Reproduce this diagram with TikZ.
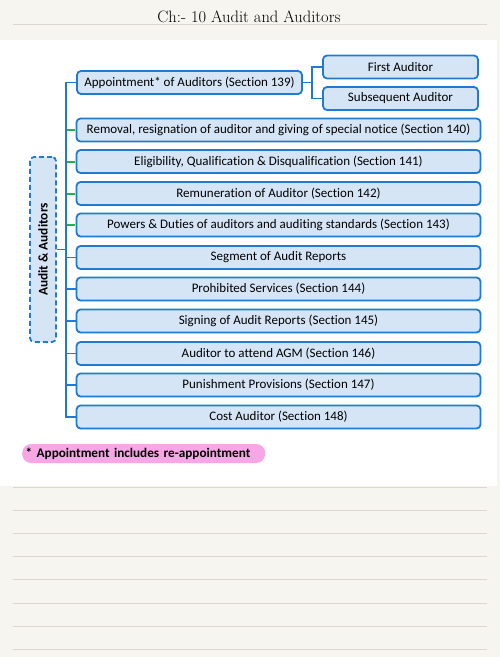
\documentclass[tikz,border=0pt]{standalone}
\usepackage{fontspec}
\setsansfont{Carlito}[Ligatures=NoCommon]
\usetikzlibrary{positioning}
\definecolor{cream}{HTML}{F7F5F0}
\definecolor{ruleline}{HTML}{DCD7CF}
\definecolor{boxfill}{HTML}{D5E5F6}
\definecolor{boxline}{HTML}{1E7AD2}
\definecolor{branchgreen}{HTML}{22B24A}
\definecolor{pillpink}{HTML}{F7A6E6}
\begin{document}
\begin{tikzpicture}[x=1pt,y=-1pt,
  topic/.style={draw=boxline, fill=boxfill, line width=1.8pt, rounded corners=4pt,
    minimum width=404pt, minimum height=23pt, inner sep=0pt,
    font=\sffamily\fontsize{13}{15}\selectfont, text=black},
  subtopic/.style={topic, minimum width=155pt},
  link/.style={draw=boxline, line width=1.8pt},
  glink/.style={draw=branchgreen, line width=2pt},
  ruled/.style={draw=ruleline, line width=0.8pt}]
\useasboundingbox (0,0) rectangle (500,657);
\fill[cream] (0,0) rectangle (500,657);
\fill[white] (0,40) rectangle (497,486);
% title
\draw[ruled] (13,24) -- (487,24);
\node (title) at (249,17) {\fontsize{16.5}{19}\selectfont Ch:- \oldstylenums{10} Audit and Auditors};
% lined area
\foreach \yy in {487,510,533,556,579,603,626,649}
  \draw[ruled] (13,\yy) -- (487,\yy);
% root
\node[draw=boxline, fill=boxfill, dash pattern=on 5pt off 3pt, line width=1.8pt, rounded corners=4pt,
  minimum width=26pt, minimum height=185pt, inner sep=0pt] (root) at (43,249.5) {};
\node[rotate=90, font=\sffamily\bfseries\fontsize{13.3}{15}\selectfont] (roottext) at (root.center) {Audit \& Auditors};
% main topics
\node[topic, minimum width=225pt] (t0) at (189.5,82.5) {Appointment* of Auditors (Section 139)};
\node[topic] (t1) at (278.5,130) {Removal, resignation of auditor and giving of special notice (Section 140)};
\node[topic] (t2) at (278.5,161.5) {Eligibility, Qualification \& Disqualification (Section 141)};
\node[topic] (t3) at (278.5,193.5) {Remuneration of Auditor (Section 142)};
\node[topic] (t4) at (278.5,225) {Powers \& Duties of auditors and auditing standards (Section 143)};
\node[topic] (t5) at (278.5,257.5) {Segment of Audit Reports};
\node[topic] (t6) at (278.5,289) {Prohibited Services (Section 144)};
\node[topic] (t7) at (278.5,321) {Signing of Audit Reports (Section 145)};
\node[topic] (t8) at (278.5,353.5) {Auditor to attend AGM (Section 146)};
\node[topic] (t9) at (278.5,385) {Punishment Provisions (Section 147)};
\node[topic] (t10) at (278.5,417) {Cost Auditor (Section 148)};
% sub topics
\node[subtopic] (s1) at (400.5,67) {First Auditor};
\node[subtopic] (s2) at (400.5,98.5) {Subsequent Auditor};
% spine
\coordinate (spinetop) at (66,82.5);
\coordinate (spinebot) at (66,417);
\draw[link] ([yshift=0.9pt]spinetop) -- ([yshift=-0.9pt]spinebot);
\draw[link] (root.east) -- (root.east -| spinetop);
\draw[link] (t0.west -| spinetop) -- (t0.west);
\draw[link] (t5.west -| spinetop) -- (t5.west);
\draw[link] (t6.west -| spinetop) -- (t6.west);
\draw[link] (t7.west -| spinetop) -- (t7.west);
\draw[link] (t8.west -| spinetop) -- (t8.west);
\draw[link] (t9.west -| spinetop) -- (t9.west);
\draw[link] (t10.west -| spinetop) -- (t10.west);
\draw[glink] ([xshift=0.9pt]t1.west -| spinetop) -- ([xshift=-0.9pt]t1.west);
\draw[glink] ([xshift=0.9pt]t2.west -| spinetop) -- ([xshift=-0.9pt]t2.west);
\draw[glink] ([xshift=0.9pt]t3.west -| spinetop) -- ([xshift=-0.9pt]t3.west);
\draw[glink] ([xshift=0.9pt]t4.west -| spinetop) -- ([xshift=-0.9pt]t4.west);
% sub branch
\coordinate (fork) at (312,82.5);
\draw[link] (t0.east) -- (fork);
\draw[link] (s1.west) -| (fork) |- (s2.west);
% footnote
\node[fill=pillpink, rounded corners=9pt, minimum width=243pt, minimum height=19pt,
  inner sep=0pt, anchor=west, font=\sffamily\bfseries\fontsize{13.2}{15}\selectfont,
  text width=236pt, align=left] (note) at (22,453.5) {* Appointment includes re-appointment};
\end{tikzpicture}
\end{document}
